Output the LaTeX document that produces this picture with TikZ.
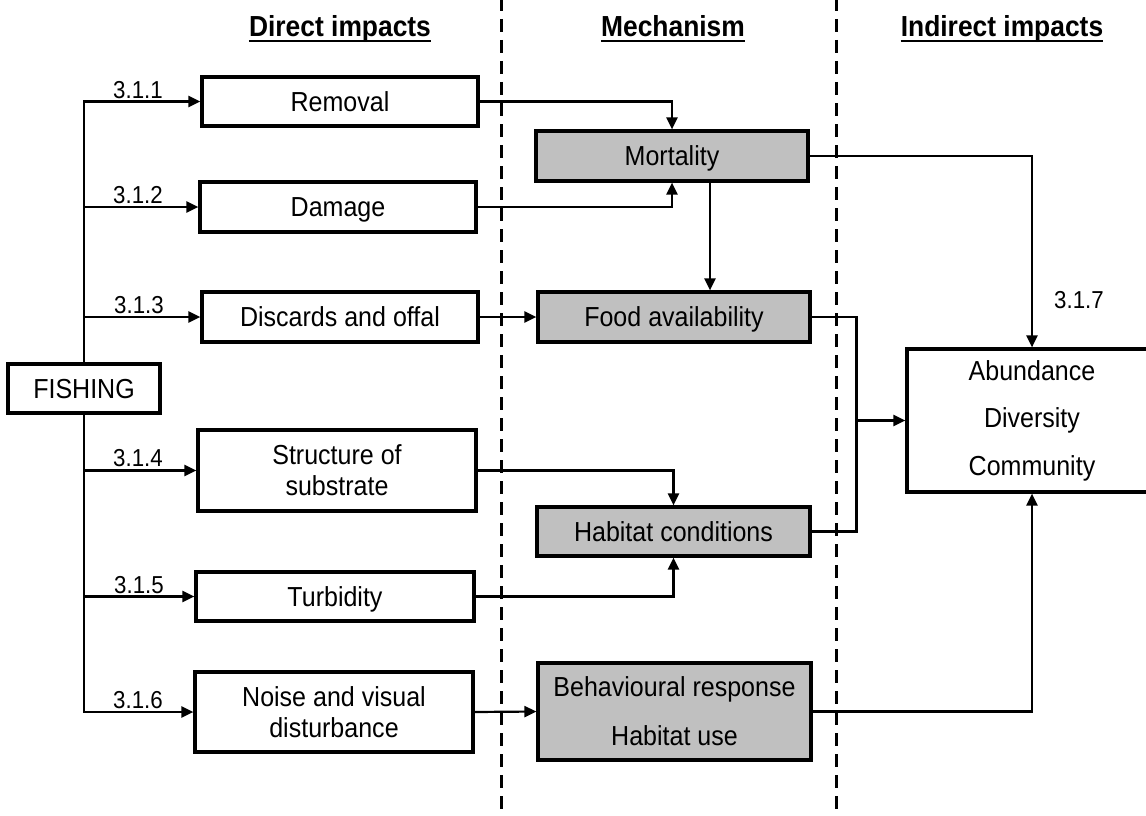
\documentclass[tikz,border=0pt]{standalone}
\usepackage{fontspec}
\setmainfont{Liberation Sans}[FakeStretch=0.91]
\usetikzlibrary{arrows.meta,calc}
\definecolor{mechgray}{HTML}{C0C0C0}
\begin{document}
\begin{tikzpicture}[x=1pt,y=-1pt,
  box/.style={draw,line width=3.2pt,fill=white,inner sep=0pt,font=\fontsize{27.5}{31}\selectfont,align=center},
  one/.style={text height=19.5pt,text depth=0pt},
  mech/.style={box,fill=mechgray},
  conn/.style={line width=2.2pt},
  arr/.style={conn,-{Triangle[length=12pt,width=11pt]}},
  lab/.style={font=\fontsize{24.5}{28}\selectfont,anchor=base,inner sep=0pt},
  head/.style={font=\bfseries\fontsize{29}{32}\selectfont,anchor=base,inner sep=0pt},
  sep/.style={line width=3pt,dash pattern=on 13pt off 8pt,dash phase=2pt}]
\useasboundingbox (0,0) rectangle (1146,816);

% column separators
\draw[sep] (501,0) -- (501,816);
\draw[sep] (836,0) -- (836,816);

% headings
\node[head] (h1) at (340,37) {Direct impacts};
\node[head] (h2) at (673,37) {Mechanism};
\node[head] (h3) at (1002,37) {Indirect impacts};
\foreach \h in {h1,h2,h3}
  \draw[line width=2.2pt] ($(\h.base west)+(0,4)$) -- ($(\h.base east)+(0,4)$);

% boxes
\node[box,one,minimum width=152pt,minimum height=49pt] (fish) at (84,388.5) {FISHING};
\node[box,one,minimum width=276pt,minimum height=49pt] (rem) at (340,101.5) {Removal};
\node[box,one,minimum width=276pt,minimum height=50pt] (dam) at (338,207) {Damage};
\node[box,one,minimum width=276pt,minimum height=50pt] (dis) at (340,317) {Discards and offal};
\node[box,minimum width=278pt,minimum height=81pt] (str) at (337,470.5) {Structure of\\substrate};
\node[box,one,minimum width=278pt,minimum height=49pt] (tur) at (335,596.5) {Turbidity};
\node[box,minimum width=278pt,minimum height=80pt] (noi) at (334,712) {Noise and visual\\disturbance};

\node[mech,one,minimum width=272pt,minimum height=50pt] (mor) at (672,156) {Mortality};
\node[mech,one,minimum width=272pt,minimum height=50pt] (food) at (674,317) {Food availability};
\node[mech,one,minimum width=273pt,minimum height=49pt] (hab) at (673.5,531.5) {Habitat conditions};
\node[mech,font=\fontsize{27.5}{49}\selectfont,minimum width=273pt,minimum height=97pt] (beh) at (674.5,711.5) {Behavioural response\\Habitat use};

\node[box,font=\fontsize{27.5}{47.5}\selectfont,minimum width=250pt,minimum height=143pt] (abu) at (1032,420.5) {Abundance\\Diversity\\Community};

% labels
\node[lab] (l1) at (138,98) {3.1.1};
\node[lab] (l2) at (138,203.5) {3.1.2};
\node[lab] (l3) at (139,313.5) {3.1.3};
\node[lab] (l4) at (138,466.5) {3.1.4};
\node[lab] (l5) at (139,593) {3.1.5};
\node[lab] (l6) at (138,708.5) {3.1.6};
\node[lab,anchor=center] (l7) at (1079,300) {3.1.7};

% fishing branches
\draw[arr] (fish.north) |- (rem.west);
\draw[arr] (fish.north) |- (dam.west);
\draw[arr] (fish.north) |- (dis.west);
\draw[arr] (fish.south) |- (str.west);
\draw[arr] (fish.south) |- (tur.west);
\draw[arr] (fish.south) |- (noi.west);

% direct -> mechanism
\draw[arr] (rem.east) -| (mor.north);
\draw[arr] (dam.east) -| (mor.south);
\coordinate (m1) at ([xshift=38pt]mor.south);
\draw[arr] (m1) -- (m1 |- food.north);
\draw[arr] (dis.east) -- (food.west);
\draw[arr] (str.east) -| (hab.north);
\draw[arr] (tur.east) -| (hab.south);
\draw[arr] (noi.east) -- (beh.west);

% mechanism -> indirect
\draw[arr] (mor.east) -| (abu.north);
\coordinate (j) at ([xshift=-49pt]abu.west);
\draw[conn] (food.east) -| (j);
\draw[conn] (hab.east) -| (j);
\draw[arr] (j) -- (abu.west);
\draw[arr] (beh.east) -| (abu.south);
\end{tikzpicture}
\end{document}
